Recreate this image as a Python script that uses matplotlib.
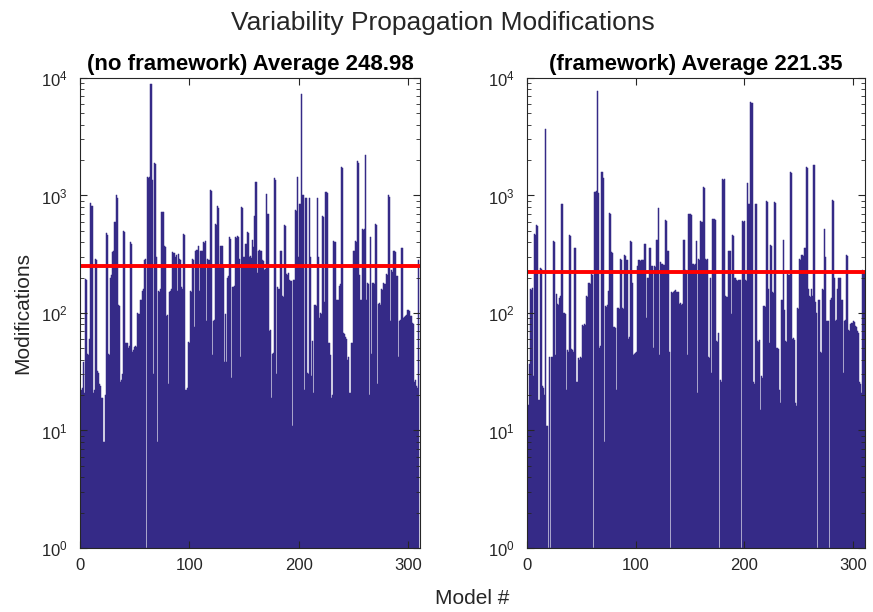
import matplotlib
matplotlib.use("Agg")
import matplotlib.pyplot as plt
import numpy as np

plt.rcParams['font.family'] = ['Liberation Sans', 'DejaVu Sans']

# modifications per model
no_fw = [
    22, 23, 38, 21, 195, 190, 45, 44, 60, 870,
    820, 21, 22, 290, 280, 32, 31, 25, 24, 19,
    19, 8, 20, 480, 460, 45, 44, 200, 210, 330,
    340, 600, 1000, 950, 117, 115, 26, 27, 30, 500,
    490, 56, 55, 50, 52, 400, 390, 47, 48, 51,
    52, 51, 100, 98, 130, 128, 155, 160, 280, 290,
    1, 1430, 1400, 1450, 8900, 1350, 30, 1900, 1850, 300,
    8, 155, 150, 160, 730, 720, 370, 365, 95, 97,
    25, 150, 155, 160, 330, 325, 300, 310, 155, 320,
    290, 285, 165, 160, 470, 460, 22, 23, 57, 56,
    155, 150, 290, 285, 76, 340, 345, 375, 155, 340,
    335, 340, 400, 395, 410, 86, 290, 285, 1120, 1100,
    44, 86, 88, 570, 560, 820, 780, 250, 375, 370,
    255, 38, 98, 38, 200, 205, 440, 430, 28, 165,
    170, 440, 435, 450, 440, 290, 42, 800, 780, 300,
    390, 385, 490, 480, 300, 305, 295, 420, 365, 675,
    1300, 220, 340, 345, 340, 335, 280, 275, 230, 235,
    1030, 700, 70, 72, 19, 45, 46, 1400, 1350, 30,
    165, 160, 340, 335, 140, 138, 560, 550, 215, 210,
    218, 190, 188, 11, 190, 192, 745, 740, 1430, 300,
    850, 840, 7300, 1000, 22, 960, 950, 31, 30, 960,
    300, 29, 58, 21, 117, 115, 950, 300, 90, 100,
    98, 670, 660, 125, 1070, 1050, 56, 55, 44, 19,
    20, 410, 405, 400, 130, 128, 170, 175, 1750, 1700,
    68, 66, 62, 60, 40, 42, 21, 56, 55, 340,
    335, 410, 405, 1980, 1900, 210, 130, 520, 510, 520,
    2200, 130, 180, 178, 20, 440, 45, 180, 175, 570,
    560, 25, 120, 122, 118, 160, 158, 180, 178, 215,
    210, 1000, 980, 86, 230, 225, 340, 335, 330, 205,
    42, 86, 88, 360, 355, 90, 92, 95, 96, 105,
    104, 95, 94, 82, 80, 26, 27, 24, 23, 280,
]

with_fw = [
    16.5, 37, 160, 158, 162, 29, 470, 465, 560, 555,
    18, 240, 238, 24, 23, 20, 3700, 11, 11, 1,
    42, 1, 42, 410, 405, 44, 146, 120, 118, 135,
    140, 850, 840, 100, 98, 22, 48, 47, 460, 455,
    49, 48, 47, 360, 355, 26, 41, 40, 42, 41,
    79, 78, 80, 79, 140, 138, 180, 178, 215, 210,
    1, 1080, 1070, 1090, 7800, 1050, 50, 52, 1580, 1400,
    8, 115, 112, 118, 155, 710, 700, 330, 325, 76,
    75, 22, 110, 110, 108, 290, 285, 110, 108, 310,
    305, 280, 60, 62, 410, 405, 180, 44, 45, 46,
    47, 250, 280, 275, 280, 285, 280, 390, 385, 90,
    200, 198, 360, 355, 250, 50, 250, 245, 420, 415,
    780, 44, 270, 260, 262, 258, 620, 610, 340, 335,
    47, 1, 150, 148, 152, 155, 158, 152, 150, 120,
    122, 118, 120, 420, 415, 230, 228, 44, 700, 690,
    680, 260, 262, 258, 260, 410, 21, 290, 285, 610,
    600, 1180, 1150, 290, 285, 288, 42, 41, 200, 31,
    630, 625, 620, 58, 57, 68, 1, 27, 26, 1380,
    1350, 1370, 140, 138, 340, 335, 338, 98, 460, 455,
    200, 198, 190, 188, 192, 190, 1, 610, 600, 605,
    190, 188, 1270, 850, 840, 6200, 6100, 26, 25, 850,
    845, 58, 57, 59, 15, 29, 28, 115, 113, 890,
    880, 160, 56, 380, 375, 150, 148, 880, 870, 50,
    49, 22, 17, 130, 128, 420, 105, 58, 57, 215,
    210, 1580, 1560, 60, 61, 59, 17, 16, 110, 108,
    290, 285, 310, 305, 360, 355, 1740, 1700, 160, 140,
    138, 160, 140, 1800, 125, 100, 1, 130, 128, 47,
    46, 160, 158, 520, 300, 86, 85, 1, 130, 135,
    910, 900, 200, 86, 88, 160, 200, 198, 130, 128,
    31, 86, 88, 310, 305, 72, 70, 80, 82, 86,
    84, 78, 76, 70, 68, 26, 25, 21, 230, 225,
]

averages = [248.98, 221.35]
titles = ['(no framework) Average 248.98', '(framework) Average 221.35']
series = [no_fw, with_fw]

bar_color = '#352A87'
axis_color = '#262626'

fig = plt.figure(figsize=(8.73, 6.12), dpi=100)
positions = [[0.0916, 0.1046, 0.3895, 0.768], [0.6037, 0.1046, 0.3872, 0.768]]

for k in range(2):
    ax = fig.add_axes(positions[k])
    vals = series[k]
    models = np.arange(1, len(vals) + 1)
    ax.set_yscale('log')
    ax.bar(models, vals, width=1.0, color=bar_color, edgecolor=bar_color,
           linewidth=0.35)
    ax.axhline(averages[k], color='red', linewidth=2.8)
    ax.set_xlim(0, 311)
    ax.set_ylim(1, 1e4)
    ax.set_xticks([0, 100, 200, 300])
    ax.tick_params(which='both', direction='in', top=True, right=True,
                   colors=axis_color, labelsize=12)
    ax.tick_params(which='major', length=5)
    ax.tick_params(which='minor', length=3)
    ax.tick_params(axis='y', which='both', pad=9)
    ax.tick_params(axis='x', which='both', pad=7)
    for s in ax.spines.values():
        s.set_color(axis_color)
        s.set_linewidth(0.8)
    ax.set_title(titles[k], fontsize=16, fontweight='bold', pad=6)
    if k == 0:
        ax.set_ylabel('Modifications', fontsize=15, color=axis_color,
                      labelpad=6)

fig.text(0.507, 0.962, 'Variability Propagation Modifications', ha='center',
         va='center', fontsize=19, color=axis_color)
fig.text(0.541, 0.022, 'Model #', ha='center', va='center', fontsize=15,
         color=axis_color)

plt.savefig('out.png', dpi=100)
